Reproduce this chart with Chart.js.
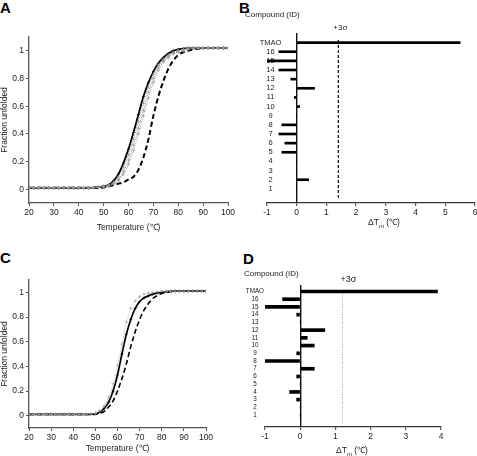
<!DOCTYPE html>
<html><head><meta charset="utf-8">
<script src="https://cdn.jsdelivr.net/npm/chart.js@4.4.1/dist/chart.umd.min.js"></script>
<style>
body{margin:0;background:#fff;width:477px;height:456px;position:relative;overflow:hidden;font-family:"Liberation Sans",Arial,sans-serif;color:#222}
canvas{position:absolute}
.t{position:absolute;white-space:nowrap;line-height:1}
.L{font-weight:bold;font-size:15px;color:#000}
</style></head><body>
<div class="t L" style="left:0;top:0">A</div>
<div class="t L" style="left:239px;top:0">B</div>
<div class="t L" style="left:0;top:250px">C</div>
<div class="t L" style="left:243px;top:251px">D</div>
<canvas id="cA" width="238" height="213" style="left:0;top:20px"></canvas>
<canvas id="cB" width="239" height="233" style="left:238px;top:0px"></canvas>
<canvas id="cC" width="238" height="214" style="left:0;top:240px"></canvas>
<canvas id="cD" width="239" height="216" style="left:238px;top:240px"></canvas>
<script>
// ---------- data ----------
const temps = [20,22,24,26,28,30,32,34,36,38,40,42,44,46,48,50,52,54,56,58,60,62,64,66,68,70,72,74,76,78,80,82,84,86,88,90,92,94,96,98,100];
const tempTicks = [20,30,40,50,60,70,80,90,100];
const fracTicks = [0,0.2,0.4,0.6,0.8,1];
const fracTickLabels = ['0','0.2','0.4','0.6','0.8','1'];

// Panel A
const aSolid = [0.01,0.01,0.01,0.01,0.01,0.01,0.01,0.01,0.01,0.01,0.01,0.01,0.01,0.012,0.015,0.02,0.03,0.06,0.11,0.19,0.29,0.41,0.54,0.67,0.77,0.85,0.91,0.95,0.98,1.0,1.01,1.015,1.02,1.02,1.02,1.02,1.02,1.02,1.02,1.02,1.02];
const aDashed = [0.01,0.01,0.01,0.01,0.01,0.01,0.01,0.01,0.01,0.01,0.01,0.01,0.01,0.01,0.01,0.012,0.02,0.03,0.04,0.05,0.07,0.09,0.14,0.23,0.36,0.53,0.67,0.78,0.87,0.93,0.97,0.99,1.0,1.01,1.015,1.02,1.02,1.02,1.02,1.02,1.02];
const aGray1 = [0.01,0.01,0.01,0.01,0.01,0.01,0.01,0.01,0.01,0.01,0.01,0.01,0.01,0.012,0.015,0.02,0.03,0.05,0.09,0.16,0.25,0.36,0.49,0.62,0.74,0.83,0.9,0.94,0.97,0.99,1.0,1.01,1.02,1.02,1.02,1.02,1.02,1.02,1.02,1.02,1.02];
const aGray2 = [0.01,0.01,0.01,0.01,0.01,0.01,0.01,0.01,0.01,0.01,0.01,0.01,0.01,0.012,0.015,0.02,0.025,0.04,0.07,0.13,0.21,0.32,0.44,0.57,0.7,0.8,0.88,0.93,0.96,0.98,1.0,1.01,1.02,1.02,1.02,1.02,1.02,1.02,1.02,1.02,1.02];
const aGray3 = [0.01,0.01,0.01,0.01,0.01,0.01,0.01,0.01,0.01,0.01,0.01,0.01,0.01,0.012,0.013,0.015,0.02,0.035,0.06,0.11,0.18,0.28,0.4,0.53,0.66,0.77,0.86,0.92,0.95,0.98,0.99,1.0,1.01,1.02,1.02,1.02,1.02,1.02,1.02,1.02,1.02];

// Panel C
const cSolid = [0.01,0.01,0.01,0.01,0.01,0.01,0.01,0.01,0.01,0.01,0.01,0.01,0.01,0.01,0.012,0.015,0.03,0.06,0.11,0.2,0.33,0.5,0.66,0.78,0.87,0.925,0.955,0.972,0.985,0.995,1.0,1.005,1.01,1.01,1.01,1.01,1.01,1.01,1.01,1.01,1.01];
const cDashed = [0.01,0.01,0.01,0.01,0.01,0.01,0.01,0.01,0.01,0.01,0.01,0.01,0.01,0.01,0.01,0.012,0.02,0.035,0.07,0.12,0.2,0.3,0.42,0.56,0.68,0.78,0.855,0.91,0.95,0.975,0.99,1.0,1.005,1.01,1.01,1.01,1.01,1.01,1.01,1.01,1.01];
const cGray = [0.01,0.01,0.01,0.01,0.01,0.01,0.01,0.01,0.01,0.01,0.01,0.01,0.01,0.012,0.015,0.02,0.04,0.08,0.15,0.26,0.41,0.58,0.76,0.87,0.93,0.965,0.985,0.995,1.0,1.005,1.01,1.01,1.01,1.01,1.01,1.01,1.01,1.01,1.01,1.01,1.01];

// Panels B and D
const compoundIds = ['1','2','3','4','5','6','7','8','9','10','11','12','13','14','15','16','TMAO'];
const bDeltaTm = [0,0.4,0,0,-0.5,-0.4,-0.6,-0.5,0,0.1,-0.08,0.6,-0.2,-0.6,-1.1,-0.6,5.5];
const bSigma = 1.4;
const bTicks = [-1,0,1,2,3,4,5,6];
const dDeltaTm = [0,0,-0.1,-0.3,0,-0.1,0.4,-1.0,-0.1,0.4,0.2,0.7,0,-0.1,-1.0,-0.5,3.9];
const dSigma = 1.2;
const dTicks = [-1,0,1,2,3,4];

// ---------- rendering ----------
const FF = "'Liberation Sans', Arial, sans-serif";
Chart.defaults.font.family = FF;
Chart.defaults.color = '#222';
const pts = arr => temps.map((t,i)=>({x:t,y:arr[i]}));

function curveChart(id, series, pad, xH, axisCol){
  const ds = series.map(s => Object.assign({
    data: pts(s.v), borderColor:'#000', borderWidth:1.6, pointRadius:0,
    cubicInterpolationMode:'monotone', fill:false
  }, s.o));
  new Chart(document.getElementById(id), {
    type:'line',
    data:{datasets:ds},
    options:{
      responsive:false, animation:false, events:[],
      layout:{padding:pad},
      plugins:{legend:{display:false}, tooltip:{enabled:false}},
      scales:{
        x:{type:'linear', min:20, max:100,
          afterBuildTicks:s=>{s.ticks = tempTicks.map(v=>({value:v}));},
          ticks:{autoSkip:false, maxRotation:0, padding:2, font:{size:8.5}, color:'#222', callback:v=>String(v)},
          grid:{display:true, drawOnChartArea:false, drawTicks:true, tickLength:3, tickColor:axisCol, tickWidth:1},
          border:{display:true, color:axisCol, width:1.3},
          title:{display:true, text:'Temperature (℃)', padding:0, font:{size:8.5, lineHeight:1.2}, color:'#222'},
          afterFit:s=>{s.height = xH; s.paddingLeft=0; s.paddingRight=0;}
        },
        y:{type:'linear', min:-0.1, max:1.1,
          afterBuildTicks:s=>{s.ticks = fracTicks.map(v=>({value:v}));},
          ticks:{autoSkip:false, padding:2, font:{size:8.5}, color:'#222', callback:(v,i)=>fracTickLabels[i]},
          grid:{display:true, drawOnChartArea:false, drawTicks:true, tickLength:3, tickColor:axisCol, tickWidth:1},
          border:{display:true, color:axisCol, width:1.3},
          title:{display:true, text:'Fraction unfolded', padding:0, font:{size:8.5, lineHeight:1.2}, color:'#222'},
          afterFit:s=>{s.width = 29; s.paddingTop=0; s.paddingBottom=0;}
        }
      }
    }
  });
}

const grayOpt = {borderColor:'#888', borderWidth:1, borderDash:[1,1.5], pointRadius:1.8, pointStyle:'cross', pointBorderColor:'#999', pointBorderWidth:0.7};

curveChart('cA', [
  {v:aGray3, o:grayOpt},
  {v:aGray2, o:grayOpt},
  {v:aGray1, o:grayOpt},
  {v:aDashed, o:{borderDash:[5,3], borderWidth:2}},
  {v:aSolid, o:{borderWidth:1.8, pointRadius:1.5, pointStyle:'cross', pointBorderColor:'#000', pointBorderWidth:0.7}}
], {left:0, right:10, top:17, bottom:0}, 30, '#555');

curveChart('cC', [
  {v:cGray, o:{borderColor:'#bbb', borderWidth:1, borderDash:[1,1.5], pointRadius:1.8, pointStyle:'cross', pointBorderColor:'#aaa', pointBorderWidth:0.7}},
  {v:cDashed, o:{borderDash:[5,3], borderWidth:1.6}},
  {v:cSolid, o:{borderWidth:1.7, pointRadius:1.5, pointStyle:'cross', pointBorderColor:'#000', pointBorderWidth:0.7}}
], {left:0, right:32, top:40, bottom:0}, 26, '#555');

// Texts for the bar panels: "+3σ", "Compound (ID)", ΔTm axis title
const barTexts = {
  id:'barTexts',
  afterDraw(chart, args, o){
    const ctx = chart.ctx;
    ctx.save();
    ctx.fillStyle = '#222';
    const sx = chart.scales.x.getPixelForValue(o.value) + o.off;
    ctx.font = o.size + 'px ' + FF;
    ctx.textAlign = 'center';
    ctx.textBaseline = 'bottom';
    ctx.fillText('+3σ', sx, chart.chartArea.top - 1);
    ctx.textBaseline = 'alphabetic';
    ctx.textAlign = 'left';
    ctx.font = '8px ' + FF;
    ctx.fillText('Compound (ID)', o.cx, o.cy);
    const big = '8.5px ' + FF, small = '6px ' + FF;
    ctx.font = big; const w1 = ctx.measureText('ΔT').width; const w3 = ctx.measureText(' (℃)').width;
    ctx.font = small; const w2 = ctx.measureText('m').width;
    let x = o.tx - (w1 + w2 + w3) / 2;
    ctx.font = big; ctx.fillText('ΔT', x, o.ty); x += w1;
    ctx.font = small; ctx.fillText('m', x, o.ty + 2.5); x += w2;
    ctx.font = big; ctx.fillText(' (℃)', x, o.ty);
    ctx.restore();
  }
};

function barChart(id, vals, sigma, ticks, yMax, pad, barW, yAxis, sigmaStyle, txt){
  new Chart(document.getElementById(id), {
    type:'bar',
    data:{datasets:[
      {type:'bar', data:compoundIds.map((c,i)=>({y:i+1, x:vals[i]})), backgroundColor:'#000', borderWidth:0, barThickness:barW},
      Object.assign({type:'line', data:[{x:sigma, y:0},{x:sigma, y:txt.top}], pointRadius:0, fill:false}, sigmaStyle)
    ]},
    options:{
      indexAxis:'y', responsive:false, animation:false, events:[],
      layout:{padding:pad},
      plugins:{legend:{display:false}, tooltip:{enabled:false}, barTexts:Object.assign({value:sigma}, txt)},
      scales:{
        x:{type:'linear', min:ticks[0], max:ticks[ticks.length-1],
          afterBuildTicks:s=>{s.ticks = ticks.map(v=>({value:v}));},
          ticks:{autoSkip:false, maxRotation:0, padding:2, font:{size:8.5}, color:'#222', callback:v=>String(v)},
          grid:{display:true, drawOnChartArea:true, drawTicks:true, tickLength:3, tickWidth:1, tickColor:'#333',
                lineWidth:1.4, color:c=> (c.tick && c.tick.value===0) ? '#111' : 'rgba(0,0,0,0)'},
          border:{display:true, color:'#333', width:1.3},
          afterFit:s=>{s.height = pad.xH; s.paddingLeft=0; s.paddingRight=0;}
        },
        y:{type:'linear', min:0, max:yMax,
          afterBuildTicks:s=>{s.ticks = compoundIds.map((c,i)=>({value:i+1}));},
          ticks:{autoSkip:false, crossAlign:'center', mirror:yAxis.mirror, padding:yAxis.pad, font:{size:yAxis.size}, color:'#222', callback:(v,i)=>compoundIds[i]},
          grid:{display:false, drawTicks:false},
          border:{display:false},
          afterFit:s=>{s.width = yAxis.w; s.paddingTop=0; s.paddingBottom=0;}
        }
      }
    },
    plugins:[barTexts]
  });
}

barChart('cB', bDeltaTm, bSigma, bTicks, 17.5, {left:29, right:2, top:33, bottom:0, xH:30}, 2,
  {mirror:true, pad:-7.3, size:7.5, w:0},
  {borderColor:'#000', borderWidth:1.2, borderDash:[3,2]},
  {top:17.3, off:2, size:8, cx:7, cy:16.5, tx:146, ty:225});
barChart('cD', dDeltaTm, dSigma, dTicks, 17.3, {left:5, right:36, top:45, bottom:0, xH:29}, 3,
  {mirror:false, pad:1, size:6.3, w:22},
  {borderColor:'#999', borderWidth:1, borderDash:[1,1.5]},
  {top:16.8, off:6, size:9, cx:6, cy:35.5, tx:114, ty:213});
</script>
</body></html>
